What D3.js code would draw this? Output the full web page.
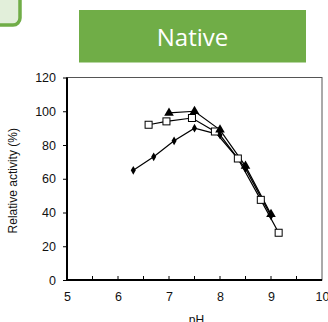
<!DOCTYPE html>
<html>
<head>
<meta charset="utf-8">
<script src="https://cdn.jsdelivr.net/npm/d3@7"></script>
<style>
  body { margin: 0; background: #fff; }
  text { font-family: "Liberation Sans", Arial, sans-serif; }
</style>
</head>
<body>
<div id="chart"></div>
<script>
// Data
const diamondPH = [6.3, 6.7, 7.1, 7.5, 8.0, 8.5, 9.0];
const diamondAct = [65, 73, 82.5, 90, 86, 66, 38];
const squarePH = [6.6, 6.95, 7.45, 7.9, 8.35, 8.8, 9.15];
const squareAct = [92, 94, 96, 88, 72, 47.5, 28];
const trianglePH = [7.0, 7.5, 8.0, 8.5, 9.0];
const triangleAct = [99, 100, 89, 67.5, 39];
const xTicks = [5, 6, 7, 8, 9, 10];
const yTicks = [0, 20, 40, 60, 80, 100, 120];

const W = 328, H = 322;
const margin = { top: 77.5, right: 6, bottom: 42, left: 67 };
const width = W - margin.left - margin.right;
const height = H - margin.top - margin.bottom;

const svg = d3.select('#chart').append('svg')
  .attr('width', W)
  .attr('height', H);

// Corner decoration and title banner
svg.append('rect')
  .attr('x', -20).attr('y', -20)
  .attr('width', 40).attr('height', 45)
  .attr('rx', 7)
  .attr('fill', '#e2efda')
  .attr('stroke', '#70ad47')
  .attr('stroke-width', 3.5);

svg.append('rect')
  .attr('x', 79).attr('y', 10)
  .attr('width', 227).attr('height', 52.5)
  .attr('fill', '#70ad47');

svg.append('text')
  .attr('x', 192.5).attr('y', 46)
  .attr('text-anchor', 'middle')
  .attr('fill', '#fff')
  .style('font-family', '"Open Sans", "Noto Sans", sans-serif')
  .style('font-size', '24px')
  .text('Native');

const g = svg.append('g')
  .attr('transform', 'translate(' + margin.left + ',' + margin.top + ')');

const x = d3.scaleLinear().domain([5, 10]).range([0, width]);
const y = d3.scaleLinear().domain([0, 120]).range([height, 0]);

// Frame
g.append('rect')
  .attr('width', width).attr('height', height)
  .attr('fill', 'none')
  .attr('stroke', '#555')
  .attr('stroke-width', 1);

// Y axis
const yAxis = g.append('g')
  .call(d3.axisLeft(y).tickValues(yTicks).tickSize(4).tickPadding(7));
yAxis.select('.domain').attr('stroke-width', 2).attr('d', 'M0,' + height + 'V0');
yAxis.selectAll('text').style('font-size', '12.5px').attr('fill', '#111');

// X axis
const xAxis = g.append('g')
  .attr('transform', 'translate(0,' + height + ')')
  .call(d3.axisBottom(x).tickValues(xTicks).tickFormat(d3.format('d')).tickSize(0).tickPadding(12));
xAxis.select('.domain').attr('stroke-width', 2).attr('d', 'M0,0H' + width);
xAxis.selectAll('text').style('font-size', '12.5px').attr('fill', '#111');

// inward minor ticks every 0.5
g.append('g')
  .selectAll('line')
  .data(d3.range(5.5, 10, 0.5))
  .join('line')
  .attr('x1', d => x(d)).attr('x2', d => x(d))
  .attr('y1', height).attr('y2', height - 4)
  .attr('stroke', '#000');

// Axis titles
svg.append('text')
  .attr('transform', 'translate(17,' + (margin.top + height / 2 + 2) + ') rotate(-90)')
  .attr('text-anchor', 'middle')
  .style('font-size', '12px')
  .attr('fill', '#111')
  .text('Relative activity (%)');

svg.append('text')
  .attr('x', margin.left + width / 2 + 2)
  .attr('y', H + 2)
  .attr('text-anchor', 'middle')
  .style('font-size', '12px')
  .attr('fill', '#111')
  .text('pH');

// Series
const line = d3.line().x(d => x(d[0])).y(d => y(d[1]));
const zip = (a, b) => a.map((v, i) => [v, b[i]]);

const diamond = zip(diamondPH, diamondAct);
const square = zip(squarePH, squareAct);
const triangle = zip(trianglePH, triangleAct);

[diamond, square, triangle].forEach(s => {
  g.append('path')
    .datum(s)
    .attr('fill', 'none')
    .attr('stroke', '#000')
    .attr('stroke-width', 1.2)
    .attr('d', line);
});

g.selectAll('.dia')
  .data(diamond)
  .join('path')
  .attr('transform', d => 'translate(' + x(d[0]) + ',' + y(d[1]) + ')')
  .attr('d', d3.symbol(d3.symbolDiamond, 22))
  .attr('fill', '#000');

g.selectAll('.sq')
  .data(square)
  .join('rect')
  .attr('x', d => x(d[0]) - 3.5)
  .attr('y', d => y(d[1]) - 3.5)
  .attr('width', 7).attr('height', 7)
  .attr('fill', '#fff')
  .attr('stroke', '#000')
  .attr('stroke-width', 1);

g.selectAll('.tri')
  .data(triangle)
  .join('path')
  .attr('transform', d => 'translate(' + x(d[0]) + ',' + y(d[1]) + ')')
  .attr('d', d3.symbol(d3.symbolTriangle, 40))
  .attr('fill', '#000');
</script>
</body>
</html>
